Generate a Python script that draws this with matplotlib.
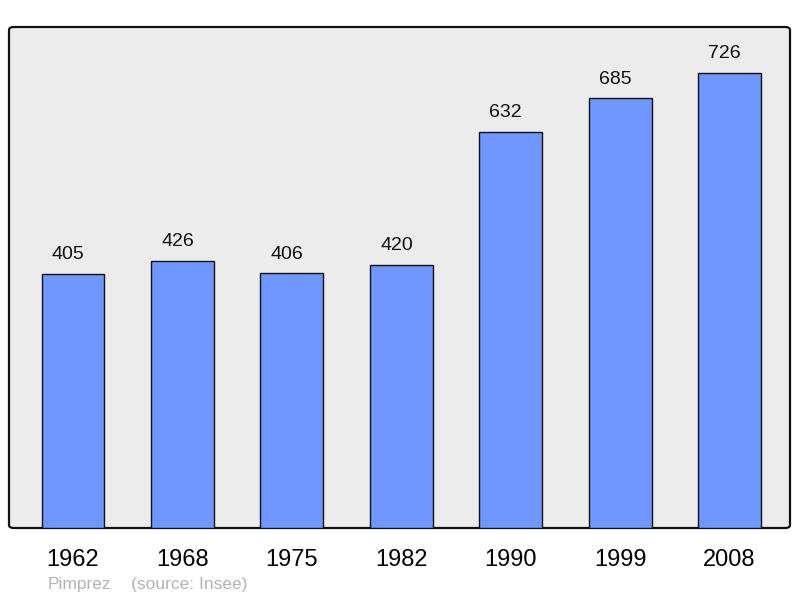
import matplotlib
matplotlib.use("Agg")
import matplotlib.pyplot as plt
from matplotlib.patches import FancyBboxPatch

years = ["1962", "1968", "1975", "1982", "1990", "1999", "2008"]
population = [405, 426, 406, 420, 632, 685, 726]
town = "Pimprez"
source = "(source: Insee)"

plt.rcParams['font.family'] = ['Liberation Sans', 'DejaVu Sans']

fig = plt.figure(figsize=(8, 5.98), dpi=100)
ax = fig.add_axes([9/800, 70/598, 781/800, 501/598])
ax.set_facecolor('none')

# rounded frame behind the bars
frame = FancyBboxPatch((0, 0), 1, 1,
                       boxstyle="round,pad=0,rounding_size=0.006",
                       transform=ax.transAxes, facecolor='#ececec',
                       edgecolor='#111111', linewidth=1.6, zorder=0,
                       clip_on=False)
ax.add_patch(frame)

x = list(range(len(years)))
ax.bar(x, population, width=0.575, color='#7096ff', edgecolor='#111111',
       linewidth=1.0, zorder=2)
for xi, v in zip(x, population):
    ax.text(xi - 0.045, v + 17, str(v), ha='center', va='bottom', fontsize=14,
            color='#111111')

ax.set_xlim(-0.585, 6.552)
ax.set_ylim(0, 799)
for s in ax.spines.values():
    s.set_visible(False)
ax.set_yticks([])
ax.set_xticks(x)
ax.set_xticklabels(years, fontsize=17)
ax.tick_params(axis='x', length=0, pad=15)

fig.text(48/800, 1 - 585/598, town, fontsize=12.5, color='#b3b3b3', va='center')
fig.text(131/800, 1 - 585/598, source, fontsize=12.5, color='#b3b3b3', va='center')

fig.savefig("out.png", dpi=100)
